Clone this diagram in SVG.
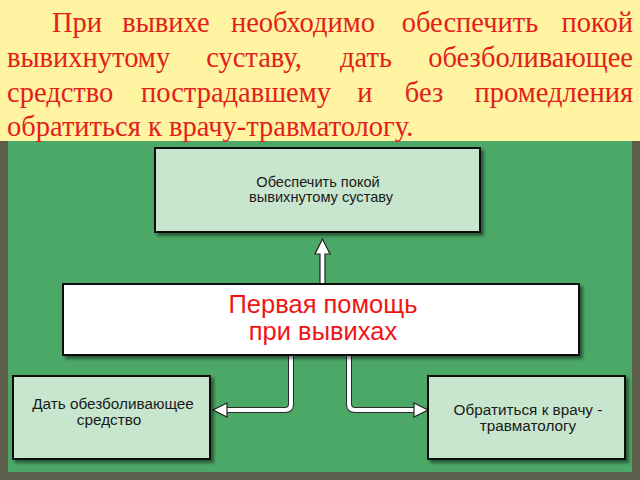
<svg xmlns="http://www.w3.org/2000/svg" width="640" height="480" viewBox="0 0 640 480">
<defs>
<style>
.title{font-family:"Liberation Serif","Times New Roman",serif;font-size:28.5px;fill:#E3201B}
.box{fill:#C8E6CD;stroke:#111;stroke-width:2}
.main{fill:#FFFFFF;stroke:#111;stroke-width:2}
.lbl{font-family:"Liberation Sans",Arial,sans-serif;font-size:15.3px;fill:#1a1a1a;text-anchor:middle}
.lblT{font-size:14.6px}
.big{font-family:"Liberation Sans",Arial,sans-serif;font-size:25.5px;fill:#F01414;text-anchor:middle}
.lnO{fill:none;stroke:#2a2a2a;stroke-width:6;stroke-linejoin:round}
.lnI{fill:none;stroke:#FFFFFF;stroke-width:4;stroke-linejoin:round}
.arr{fill:#FFFFFF;stroke:#222;stroke-width:1.2;stroke-linejoin:miter}
</style>
<filter id="sh" x="-10%" y="-10%" width="130%" height="140%">
<feDropShadow dx="3" dy="3" stdDeviation="1.5" flood-color="#000" flood-opacity="0.45"/>
</filter>
</defs>
<rect x="0" y="0" width="640" height="480" fill="#5D5E4B"/>
<rect x="8" y="141" width="624" height="331" fill="#4BA866"/>
<rect x="0" y="0" width="640" height="141" fill="#FEF4A1"/>
<g id="title">
<text class="title" y="32"><tspan x="52">При</tspan><tspan x="166" text-anchor="middle">вывихе</tspan><tspan x="303" text-anchor="middle">необходимо</tspan><tspan x="470" text-anchor="middle">обеспечить</tspan><tspan x="633" text-anchor="end">покой</tspan></text>
<text class="title" y="67"><tspan x="7">вывихнутому</tspan><tspan x="254" text-anchor="middle">суставу,</tspan><tspan x="366" text-anchor="middle">дать</tspan><tspan x="633" text-anchor="end">обезболивающее</tspan></text>
<text class="title" y="102"><tspan x="7">средство</tspan><tspan x="236" text-anchor="middle">пострадавшему</tspan><tspan x="365" text-anchor="middle">и</tspan><tspan x="424" text-anchor="middle">без</tspan><tspan x="633" text-anchor="end">промедления</tspan></text>
<text class="title" y="136" x="7">обратиться к врачу-травматологу.</text>
</g>
<g id="connectors">
<path class="arr" d="M320,284 L320,254 L315,254 L322.5,239 L330,254 L325,254 L325,284 Z"/>
<path class="lnO" d="M291,356 L291,404 Q291,410 285,410 L226,410"/>
<path class="lnI" d="M291,356 L291,404 Q291,410 285,410 L226,410"/>
<path class="arr" d="M227,403 L213,410 L227,417 Z"/>
<path class="lnO" d="M349,356 L349,404 Q349,410 355,410 L415,410"/>
<path class="lnI" d="M349,356 L349,404 Q349,410 355,410 L415,410"/>
<path class="arr" d="M414,403 L428,410 L414,417 Z"/>
</g>
<g id="node-top">
<rect class="box" x="155" y="148" width="325" height="84" filter="url(#sh)"/>
<text class="lbl lblT" x="318" y="187">Обеспечить покой</text>
<text class="lbl lblT" x="321" y="202">вывихнутому суставу</text>
</g>
<g id="node-main">
<rect class="main" x="63" y="284" width="516" height="71" filter="url(#sh)"/>
<text class="big" x="323" y="313">Первая помощь</text>
<text class="big" x="323" y="340">при вывихах</text>
</g>
<g id="node-left">
<rect class="box" x="13" y="376" width="197" height="83" filter="url(#sh)"/>
<text class="lbl" x="113" y="409">Дать обезболивающее</text>
<text class="lbl" x="109" y="425">средство</text>
</g>
<g id="node-right">
<rect class="box" x="428" y="376" width="197" height="83" filter="url(#sh)"/>
<text class="lbl" x="528" y="415">Обратиться к врачу -</text>
<text class="lbl" x="528" y="431">травматологу</text>
</g>
</svg>
